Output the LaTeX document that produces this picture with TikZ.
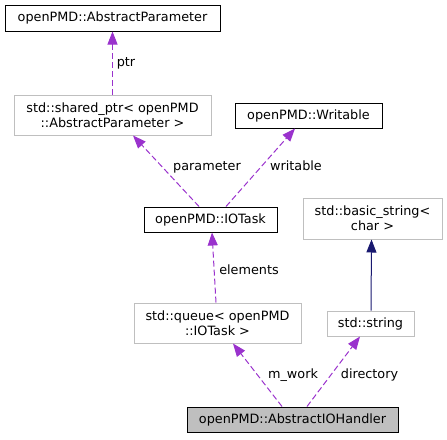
\documentclass[tikz,border=0pt]{standalone}
\usepackage{fontspec}
\setmainfont{DejaVu Sans}
\usetikzlibrary{arrows.meta,calc}
\definecolor{edgepurple}{HTML}{9A32CD}
\definecolor{boxgray}{HTML}{BFBFBF}
\definecolor{navyblue}{HTML}{191970}
\begin{document}
\begin{tikzpicture}[x=1pt,y=-1pt,
  every node/.style={font=\fontsize{12.8}{15}\selectfont, inner sep=0pt, align=center},
  cls/.style={draw=black, line width=1pt, rectangle},
  ext/.style={draw=boxgray, line width=1pt, rectangle},
  focus/.style={draw=black, fill=boxgray, line width=1pt, rectangle},
  usage/.style={draw=edgepurple, line width=1pt, dash pattern=on 6pt off 3pt,
    -{Triangle[length=13pt,width=10pt,fill=edgepurple]}},
  inherit/.style={draw=navyblue, line width=1pt,
    -{Triangle[length=13pt,width=10pt,fill=navyblue]}},
  lbl/.style={text height=0.75em, text depth=0.25em}
]
\useasboundingbox (0,0) rectangle (447,439);
\node[cls, minimum width=215pt, minimum height=26pt] (ap) at (112.5,18) {openPMD::AbstractParameter};
\node[ext, minimum width=197pt, minimum height=40pt] (sp) at (112.5,115) {std::shared\_ptr< openPMD\\::AbstractParameter >};
\node[cls, minimum width=147pt, minimum height=25pt] (wr) at (308.5,115.5) {openPMD::Writable};
\node[cls, minimum width=133pt, minimum height=25pt] (io) at (210.5,219.5) {openPMD::IOTask};
\node[ext, minimum width=139pt, minimum height=41pt] (bs) at (372.5,218.5) {std::basic\_string<\\char >};
\node[ext, minimum width=167pt, minimum height=40pt] (qu) at (217.5,323) {std::queue< openPMD\\::IOTask >};
\node[ext, minimum width=87pt, minimum height=25pt] (st) at (370.5,323.5) {std::string};
\node[focus, minimum width=211pt, minimum height=25pt] (ah) at (292.5,419.5) {openPMD::AbstractIOHandler};

\draw[usage] (sp.north) -- (ap.south);
\draw[usage] ([xshift=-11.5pt]io.north) -- ([xshift=20.5pt]sp.south);
\draw[usage] ([xshift=15.5pt]io.north) -- ([xshift=-13.5pt]wr.south);
\draw[usage] ([xshift=-1.5pt]qu.north) -- ([xshift=1.5pt]io.south);
\draw[inherit] ([xshift=0.5pt]st.north) -- ([xshift=-1pt]bs.south);
\draw[usage] ([xshift=-10.5pt]ah.north) -- ([xshift=15.5pt]qu.south);
\draw[usage] ([xshift=14.5pt]ah.north) -- ([xshift=-10.5pt]st.south);

\node[lbl] (lptr) at (126,64) {ptr};
\node[lbl] (lpar) at (207,168) {parameter};
\node[lbl] (lwr) at (296,168) {writable};
\node[lbl] (lel) at (249,272) {elements};
\node[lbl] (lmw) at (293,376) {m\_work};
\node[lbl] (ldir) at (369.5,376) {directory};
\end{tikzpicture}
\end{document}
